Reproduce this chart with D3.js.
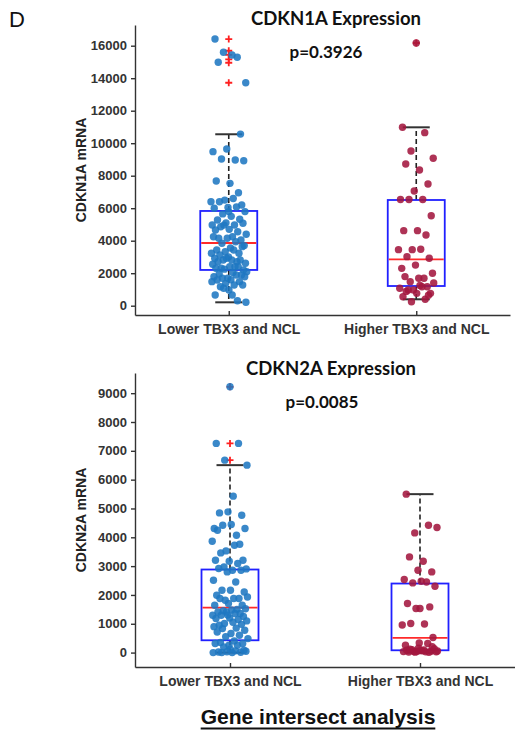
<!DOCTYPE html>
<html>
<head>
<meta charset="utf-8">
<script src="https://cdn.jsdelivr.net/npm/d3@7"></script>
<style>
body { margin: 0; background: #fff; }
svg { display: block; font-family: "Liberation Sans", Arial, sans-serif; }
.axis text { font-weight: bold; fill: #333; }
.axis path, .axis line { stroke: #333; stroke-width: 1.4; }
.title { font-family: Lato, "Open Sans", sans-serif; font-weight: bold; fill: #111; }
</style>
</head>
<body>
<div id="fig"></div>
<script>
/* categories and tick values */
var categories = ["Lower TBX3 and NCL", "Higher TBX3 and NCL"];
var cdkn1aTicks = [0, 2000, 4000, 6000, 8000, 10000, 12000, 14000, 16000];
var cdkn2aTicks = [0, 1000, 2000, 3000, 4000, 5000, 6000, 7000, 8000, 9000];

/* individual samples */
var cdkn1aLower = [5790, 16410, 15290, 15600, 13720, 15430, 14980,
    10560, 9640, 9480, 8970, 9030, 8920, 7530, 7670, 6950, 6500, 6400, 6600, 6400, 6200, 6050, 6000, 6070,
    5650, 5790, 5500, 5275, 5317, 5100, 4966, 4966, 4862, 5070, 4700, 4658, 4555, 4960, 4400, 4246,
    4148, 4043, 4148, 4246, 3940, 3840, 3700, 3550, 3428, 3225, 3325, 3225, 3428, 3120, 3633, 3000,
    2917, 2710, 2813, 2609, 2813, 2710, 2813, 2917, 2550, 2400, 2302, 2197, 2400, 2302, 2400, 2250, 2095, 2050,
    1950, 1890, 1686, 1785, 1890, 1686, 1785, 1600, 1582, 1480, 1375, 1480, 1274, 1170, 1274, 966, 658, 308,
    1070, 209, 658];
var cdkn1aHigher = [16166, 10978, 10650, 9520, 9070, 8350, 8720, 7490, 7060, 6540, 6540, 6540, 5540,
    4620, 4620, 4350, 3450, 3450, 3470, 3020, 2920, 2500, 2300, 1690, 1480, 2000, 1690, 1790, 1170, 966,
    1070, 1170, 966, 760, 760, 553, 394, 246, 1400, 1250, 880, 650];
var cdkn2aLower = [9222, 7257, 7257, 6677, 6503, 5427, 4847, 4767, 4882, 4305, 4073, 4420, 4305, 4444,
    4246, 3760, 3528, 3865, 3726, 3458, 3205, 3170, 3205, 3090, 2972, 2903,
    2858, 2916, 2858, 2800, 2510, 2451, 2163, 2104, 2163, 1990, 1875, 1816, 1930, 1875, 1875, 1642, 1701,
    1642, 1500, 1450, 1520, 1480, 1410, 1354, 1410, 1295, 1354, 1295, 1250, 1200, 1181, 1150, 1007, 1100,
    1050, 950, 980, 1300, 900, 850, 833, 774, 660, 715, 600, 550, 486, 400, 350,
    313, 253, 313, 253, 194, 45, 0, 20, 10, 30, 0, 60, 5, 80, 120];
var cdkn2aHigher = [1528, 5497, 4420, 4153, 4340, 3170, 3320, 2800, 2858, 2535, 2451, 2417, 2302, 2476,
    1701, 1585, 1528, 955, 990, 1007, 521, 333, 253, 313, 40, 30, 60, 20, 50, 45, 35, 25, 100, 139, 70,
    80, 10, 15, 55, 90, 120, 200, 150];

/* box statistics per category: [lower whisker, q1, median, q3, upper whisker] */
var cdkn1aBox = [[209, 2200, 3860, 5830, 10550], [394, 1212, 2855, 6505, 10978]];
var cdkn2aBox = [[0, 427, 1562, 2882, 6503], [0, 80, 507, 2396, 5497]];
var cdkn1aOutliers = [[16410, 15690, 15430, 15160, 14950, 13720], [16166]];
var cdkn2aOutliers = [[9222, 7257, 6677], []];

var dotColors = ["#1f78c1", "#a3173f"];

var svg = d3.select("#fig").append("svg")
    .attr("width", 515)
    .attr("height", 733);

function translate(x, y) {
    return "translate(" + x + "," + y + ")";
}

function jitter(i) {
    /* deterministic spread of the dots around the category centre */
    return ((i * 0.6180339887 + 0.5) % 1) * 2 - 1;
}

function create_panel(cfg) {
    var y = d3.scaleLinear().domain(cfg.yDomain).range([cfg.bottom, cfg.top]);
    var x = d3.scalePoint().domain(categories).range([135, cfg.right]).padding(0.5);
    var boxHalf = 28.5, capHalf = 13.5, spread = 18;

    var g = svg.append("g");

    /* axes */
    g.append("g")
        .attr("class", "axis")
        .attr("transform", translate(135, 0))
        .call(d3.axisLeft(y).tickValues(cfg.ticks).tickSizeInner(4).tickSizeOuter(0).tickPadding(4)
            .tickFormat(d3.format("d")))
        .selectAll("text").style("font-size", "13px");

    g.append("g")
        .attr("class", "axis")
        .attr("transform", translate(0, cfg.bottom))
        .call(d3.axisBottom(x).tickSizeInner(-4).tickSizeOuter(0).tickPadding(9))
        .selectAll("text").style("font-size", "14px");

    /* y label */
    g.append("text")
        .attr("transform", translate(86, (cfg.top + cfg.bottom) / 2) + " rotate(-90)")
        .attr("text-anchor", "middle")
        .style("font-size", "14px")
        .style("font-weight", "bold")
        .style("fill", "#222")
        .text(cfg.yLabel);

    /* boxes */
    var box = g.selectAll("g.box")
        .data(cfg.boxes)
      .enter().append("g")
        .attr("class", "box")
        .attr("transform", function(d, i) { return translate(x(categories[i]), 0); });

    box.append("line")
        .attr("x1", 0).attr("x2", 0)
        .attr("y1", function(d) { return y(d[3]); })
        .attr("y2", function(d) { return y(d[4]); })
        .attr("stroke", "#222").attr("stroke-width", 1.6).attr("stroke-dasharray", "5,3");
    box.append("line")
        .attr("x1", 0).attr("x2", 0)
        .attr("y1", function(d) { return y(d[1]); })
        .attr("y2", function(d) { return y(d[0]); })
        .attr("stroke", "#222").attr("stroke-width", 1.6).attr("stroke-dasharray", "5,3");
    [0, 4].forEach(function(k) {
        box.append("line")
            .attr("x1", -capHalf).attr("x2", capHalf)
            .attr("y1", function(d) { return y(d[k]); })
            .attr("y2", function(d) { return y(d[k]); })
            .attr("stroke", "#333").attr("stroke-width", 2);
    });
    box.append("rect")
        .attr("x", -boxHalf)
        .attr("width", 2 * boxHalf)
        .attr("y", function(d) { return y(d[3]); })
        .attr("height", function(d) { return y(d[1]) - y(d[3]); })
        .attr("fill", "none").attr("stroke", "#2020ff").attr("stroke-width", 1.8);
    box.append("line")
        .attr("x1", -boxHalf + 1).attr("x2", boxHalf - 1)
        .attr("y1", function(d) { return y(d[2]); })
        .attr("y2", function(d) { return y(d[2]); })
        .attr("stroke", "#ff2a2a").attr("stroke-width", 1.8);

    /* outliers as red plus signs */
    cfg.outliers.forEach(function(list, i) {
        g.selectAll(null)
            .data(list)
          .enter().append("path")
            .attr("d", function(d) {
                var cx = x(categories[i]), cy = y(d);
                return "M" + (cx - 3.5) + "," + cy + "H" + (cx + 3.5) + "M" + cx + "," + (cy - 3.5) + "V" + (cy + 3.5);
            })
            .attr("stroke", "#ff2020").attr("stroke-width", 1.8);
    });

    /* jittered samples */
    cfg.values.forEach(function(list, i) {
        g.selectAll(null)
            .data(list)
          .enter().append("circle")
            .attr("cx", function(d, j) { return x(categories[i]) + jitter(j) * spread; })
            .attr("cy", function(d) { return y(d); })
            .attr("r", 3.7)
            .attr("fill", dotColors[i])
            .attr("fill-opacity", 0.88);
    });

    /* title and p value */
    g.append("text").attr("class", "title")
        .attr("x", cfg.titleX).attr("y", cfg.titleY)
        .attr("text-anchor", "middle")
        .style("font-size", "18.5px")
        .text(cfg.title);
    g.append("text").attr("class", "title")
        .attr("x", cfg.pX).attr("y", cfg.titleY + 33)
        .attr("text-anchor", "middle")
        .style("font-size", "17px")
        .text(cfg.p);
}

create_panel({
    top: 25, bottom: 315, right: 510, yDomain: [-572, 17274], ticks: cdkn1aTicks,
    values: [cdkn1aLower, cdkn1aHigher], boxes: cdkn1aBox, outliers: cdkn1aOutliers,
    yLabel: "CDKN1A mRNA", title: "CDKN1A Expression", titleX: 336, titleY: 25,
    p: "p=0.3926", pX: 326
});
create_panel({
    top: 373, bottom: 667, right: 515, yDomain: [-500, 9700], ticks: cdkn2aTicks,
    values: [cdkn2aLower, cdkn2aHigher], boxes: cdkn2aBox, outliers: cdkn2aOutliers,
    yLabel: "CDKN2A mRNA", title: "CDKN2A Expression", titleX: 331, titleY: 375,
    p: "p=0.0085", pX: 322
});

/* panel letter */
svg.append("text")
    .attr("x", 9).attr("y", 27)
    .style("font-size", "22px")
    .style("fill", "#111")
    .text("D");

/* footer caption, underlined */
var caption = svg.append("text")
    .attr("x", 318).attr("y", 724)
    .attr("text-anchor", "middle")
    .style("font-size", "21px")
    .style("font-weight", "bold")
    .style("fill", "#111")
    .text("Gene intersect analysis");
var bb = caption.node().getBBox();
svg.append("line")
    .attr("x1", bb.x).attr("x2", bb.x + bb.width)
    .attr("y1", 728.5).attr("y2", 728.5)
    .attr("stroke", "#111").attr("stroke-width", 2);
</script>
</body>
</html>
